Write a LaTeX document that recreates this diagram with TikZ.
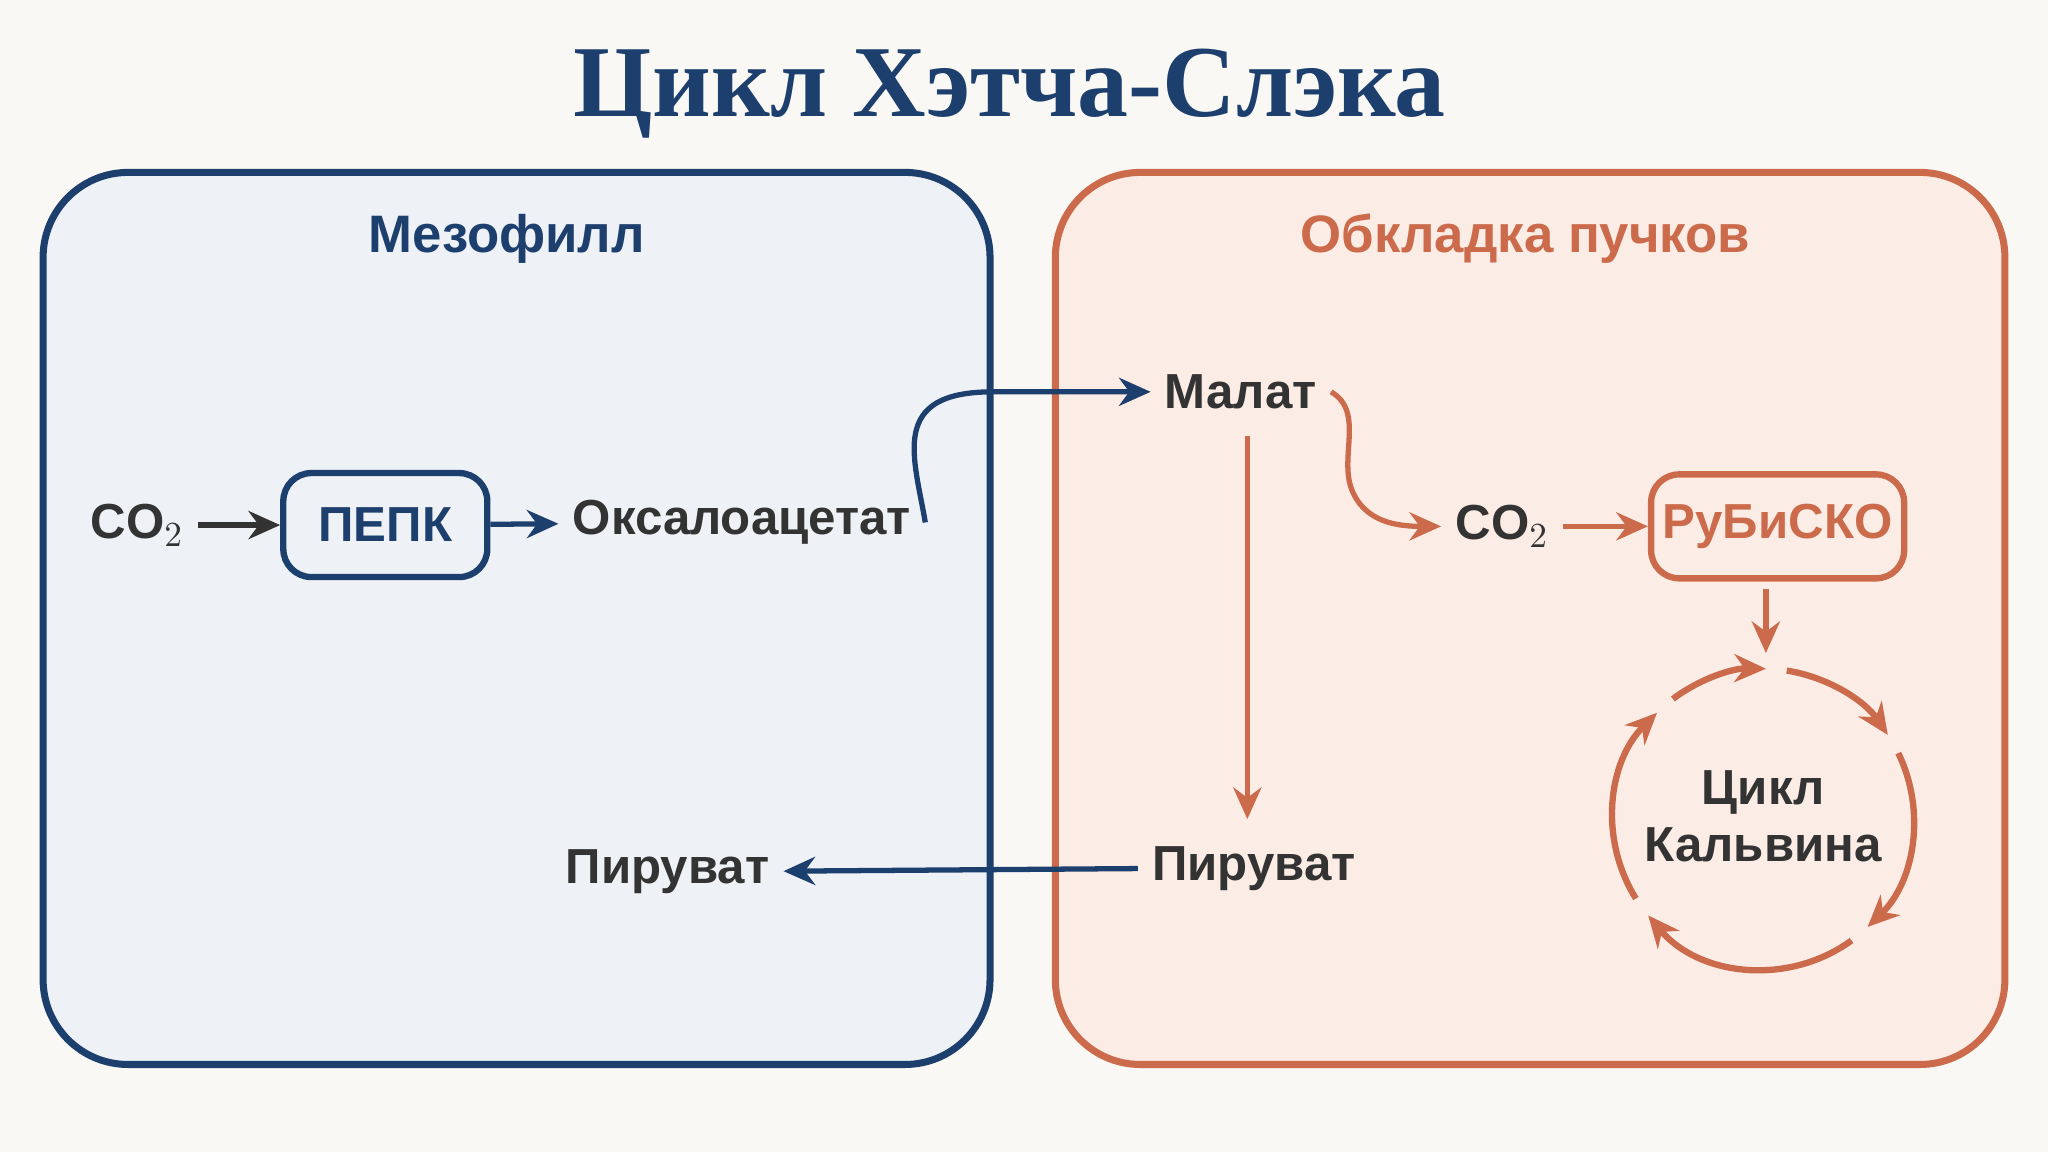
\documentclass[tikz,border=0pt]{standalone}
\usepackage{fontspec}
\setmainfont{Liberation Sans}
\newfontfamily\titlefont{Liberation Serif}
\usetikzlibrary{arrows.meta,positioning,calc}
\definecolor{navy}{HTML}{1D3F6E}
\definecolor{rust}{HTML}{CC6B4B}
\definecolor{ink}{HTML}{333333}
\definecolor{paper}{HTML}{FAF8F4}
\definecolor{blueback}{HTML}{EEF1F5}
\definecolor{rustback}{HTML}{FBECE5}
\begin{document}
\begin{tikzpicture}[x=0.013061cm, y=-0.013061cm, line width=1.5pt, >={Stealth[length=9pt,width=8pt]},
    label/.style = {font=\fontsize{14}{16}\selectfont\bfseries, text=ink},
    head/.style = {font=\fontsize{15}{18}\selectfont\bfseries},
    enzyme/.style = {draw, rounded corners=8pt, line width=1.8pt, minimum width=2.04cm, minimum height=1.04cm, font=\fontsize{14}{16}\selectfont\bfseries}]
    \fill[paper] (0,0) rectangle (1568,882);
    \useasboundingbox (0,0) rectangle (1568,882);
    \node[font=\titlefont\fontsize{29}{34}\selectfont\bfseries, text=navy] (title) at (773,72) {Цикл Хэтча-Слэка};

    % two cells
    \draw[navy, fill=blueback, line width=2pt, rounded corners=0.85cm] (33,132) rectangle (758,815);
    \draw[rust, fill=rustback, line width=2pt, rounded corners=0.85cm] (808,132) rectangle (1535,815);
    \node[head, text=navy] (meso) at (388,183) {Мезофилл};
    \node[head, text=rust] (bundle) at (1168,183) {Обкладка пучков};

    % mesophyll
    \node[label] (co2a) at (105,402) {CO$_2$};
    \node[enzyme, draw=navy, text=navy] (pepc) at (295,402) {ПЕПК};
    \node[label] (oxa) at (568,400) {Оксалоацетат};
    \node[label] (pyra) at (511,667) {Пируват};

    % bundle sheath
    \node[label] (mal) at (950,300) {Малат};
    \node[label] (co2b) at (1150,403) {CO$_2$};
    \node[enzyme, draw=rust, text=rust] (rub) at (1361,403) {РуБиСКО};
    \node[label] (pyrb) at (960,665) {Пируват};
    \node[label, align=center] (calvin) at (1350,625) {Цикл\\Кальвина};
    \coordinate (cc) at (1350,627);
    \coordinate (top) at (1352,500);

    \draw[->, ink] (co2a) -- (pepc);
    \draw[->, navy] (pepc) -- (oxa);
    \draw[->, navy] (oxa.east) .. controls (700,350) and (680,300) .. (760,300) -- (mal.west);
    \draw[->, navy] (pyrb.west) -- (pyra.east);
    \draw[->, rust] (mal.east) .. controls (1045,315) and (1025,350) .. (1035,375) .. controls (1045,400) and (1070,403) .. (co2b.west);
    \draw[->, rust] (co2b) -- (rub);
    \draw[->, rust] ($(mal.south)+(5,10)$) -- ($(pyrb.north)+(-5,-10)$);
    \draw[->, rust] ($(rub.south)+(-9,6)$) -- (top);

    % Calvin cycle
    \foreach \a/\b in {-127/-89, -81/-34, -26/46, 54/140, 148/225}
        \draw[->, rust, line width=1.8pt] ($(cc)+(\a:115)$) arc[start angle=\a, end angle=\b, radius=115];
\end{tikzpicture}
\end{document}
